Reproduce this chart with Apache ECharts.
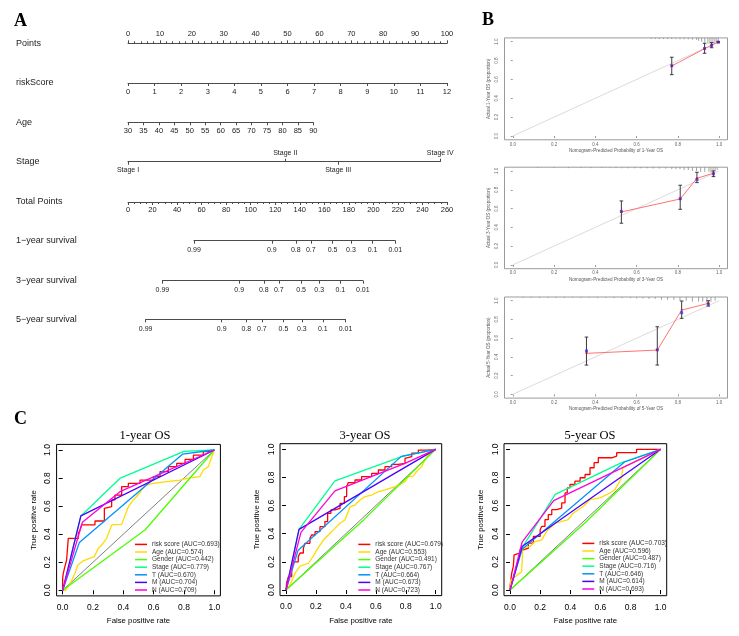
<!DOCTYPE html>
<html><head><meta charset="utf-8">
<script src="https://cdn.jsdelivr.net/npm/echarts@6/dist/echarts.min.js"></script>
<style>html,body{margin:0;padding:0;background:#fff}#c{width:739px;height:636px}</style>
</head><body><div id="c"></div>
<script>
// ================= DATA =================
// --- Panel A: nomogram ---
const rowLabels = ['Points','riskScore','Age','Stage','Total Points','1\u2212year survival','3\u2212year survival','5\u2212year survival'];
const pointsRange = [0, 100], pointsStep = 10;
const riskRange = [0, 12], riskStep = 1;
const ageRange = [30, 90], ageStep = 5;
const stageLabels = ['Stage I','Stage II','Stage III','Stage IV'];
const stagePoints = [0, 49.3, 65.9, 97.9];
const totalRange = [0, 260], totalStep = 20;
const survLabels = ['0.99','0.9','0.8','0.7','0.5','0.3','0.1','0.01'];
const surv1Pts = [53.8, 117.2, 136.8, 149.0, 166.7, 181.7, 199.3, 217.8];
const surv3Pts = [28.0, 90.6, 110.7, 122.9, 141.1, 155.8, 173.0, 191.4];
const surv5Pts = [14.4, 76.4, 96.5, 109.1, 126.7, 141.7, 158.8, 177.3];

// --- Panel B: calibration ---
const calTicks = [0, 0.2, 0.4, 0.6, 0.8, 1.0];
const cal1Pred = [0.77, 0.929, 0.963, 0.995];
const cal1Obs  = [0.742, 0.926, 0.962, 0.997];
const cal1Corr = [0.745, 0.928, 0.96, 0.995];
const cal1Lo   = [0.65, 0.877, 0.936, 0.99];
const cal1Hi   = [0.835, 0.983, 0.99, 1.0];
const cal3Pred = [0.526, 0.811, 0.892, 0.972];
const cal3Obs  = [0.564, 0.702, 0.922, 0.976];
const cal3Corr = [0.57, 0.705, 0.91, 0.97];
const cal3Lo   = [0.444, 0.592, 0.876, 0.94];
const cal3Hi   = [0.681, 0.848, 0.986, 1.0];
const cal5Pred = [0.357, 0.70, 0.818, 0.947];
const cal5Obs  = [0.438, 0.473, 0.9, 0.972];
const cal5Corr = [0.463, 0.476, 0.872, 0.965];
const cal5Lo   = [0.313, 0.313, 0.812, 0.943];
const cal5Hi   = [0.612, 0.722, 0.997, 1.0];
const rug1 = [[0.67,0.012],[0.69,0.012],[0.71,0.012],[0.73,0.012],[0.75,0.012],[0.77,0.012],[0.79,0.012],[0.81,0.015],[0.83,0.015],[0.85,0.015],[0.87,0.02],[0.89,0.02],[0.90,0.03],[0.915,0.04],[0.93,0.05],[0.945,0.06],[0.955,0.06],[0.965,0.07],[0.975,0.06],[0.985,0.05],[0.995,0.04]];
const rug3 = [[0.12,0.01],[0.2,0.01],[0.27,0.01],[0.33,0.01],[0.38,0.01],[0.43,0.01],[0.47,0.01],[0.5,0.01],[0.53,0.012],[0.56,0.012],[0.59,0.012],[0.62,0.012],[0.65,0.012],[0.68,0.015],[0.71,0.015],[0.74,0.015],[0.77,0.02],[0.79,0.02],[0.81,0.02],[0.83,0.03],[0.85,0.03],[0.87,0.04],[0.89,0.04],[0.91,0.05],[0.93,0.05],[0.95,0.05],[0.96,0.06],[0.97,0.05],[0.98,0.04],[0.99,0.03]];
const rug5 = [[0.05,0.01],[0.09,0.01],[0.13,0.01],[0.17,0.01],[0.21,0.01],[0.25,0.01],[0.29,0.01],[0.33,0.012],[0.37,0.01],[0.41,0.012],[0.45,0.01],[0.49,0.012],[0.53,0.012],[0.57,0.012],[0.6,0.015],[0.63,0.015],[0.66,0.02],[0.69,0.02],[0.72,0.03],[0.75,0.03],[0.78,0.03],[0.81,0.04],[0.84,0.04],[0.87,0.05],[0.9,0.05],[0.92,0.05],[0.94,0.06],[0.96,0.05],[0.98,0.04]];

// --- Panel C: ROC ---
const rocVars = ['risk score','Age','Gender','Stage','T','M','N'];
const auc1 = [0.693, 0.574, 0.442, 0.779, 0.670, 0.704, 0.709];
const auc3 = [0.679, 0.553, 0.491, 0.767, 0.664, 0.673, 0.723];
const auc5 = [0.703, 0.596, 0.487, 0.716, 0.646, 0.614, 0.693];
const rocTicks = [0, 0.2, 0.4, 0.6, 0.8, 1.0];

const roc1Risk = [[0,0],[0.004,0.086],[0.015,0.12],[0.026,0.17],[0.037,0.216],[0.048,0.37],[0.103,0.37],[0.114,0.406],[0.125,0.43],[0.147,0.466],[0.213,0.466],[0.22,0.494],[0.275,0.494],[0.286,0.584],[0.323,0.596],[0.345,0.644],[0.389,0.679],[0.433,0.739],[0.51,0.762],[0.598,0.786],[0.642,0.81],[0.697,0.846],[0.752,0.881],[0.807,0.905],[0.862,0.933],[0.927,0.964],[0.971,0.988],[1,1]];
const roc1Age = [[0,0],[0.02,0.0],[0.05,0.05],[0.08,0.12],[0.10,0.18],[0.136,0.21],[0.176,0.228],[0.209,0.24],[0.235,0.30],[0.257,0.323],[0.29,0.37],[0.323,0.466],[0.389,0.47],[0.433,0.596],[0.466,0.644],[0.505,0.69],[0.543,0.748],[0.598,0.762],[0.686,0.774],[0.774,0.786],[0.818,0.798],[0.905,0.81],[0.927,0.857],[0.96,0.88],[0.976,0.93],[1,1]];
const roc1Gender = [[0,0],[0.543,0.43],[1,1]];
const roc1Stage = [[0,0],[0.12,0.53],[0.38,0.80],[0.80,0.99],[1,1]];
const roc1T = [[0,0],[0.11,0.34],[0.79,0.97],[1,1]];
const roc1M = [[0,0],[0.12,0.53],[1,1]];
const roc1N = [[0,0],[0.13,0.485],[0.378,0.703],[1,1]];

const roc3Risk = [[0,0],[0.004,0.0],[0.016,0.05],[0.038,0.095],[0.049,0.142],[0.06,0.2],[0.082,0.2],[0.094,0.237],[0.116,0.263],[0.127,0.296],[0.16,0.332],[0.171,0.367],[0.194,0.391],[0.227,0.415],[0.26,0.45],[0.278,0.486],[0.3,0.545],[0.327,0.569],[0.361,0.58],[0.39,0.616],[0.405,0.664],[0.416,0.735],[0.461,0.763],[0.505,0.782],[0.572,0.806],[0.617,0.829],[0.661,0.853],[0.706,0.877],[0.75,0.893],[0.795,0.9],[0.8,0.936],[0.84,0.948],[0.884,0.972],[0.94,0.995],[1,1]];
const roc3Age = [[0,0],[0.027,0.036],[0.06,0.118],[0.094,0.17],[0.15,0.19],[0.18,0.237],[0.205,0.284],[0.25,0.355],[0.294,0.403],[0.327,0.438],[0.36,0.474],[0.394,0.498],[0.428,0.592],[0.461,0.604],[0.494,0.64],[0.528,0.664],[0.572,0.675],[0.617,0.699],[0.661,0.711],[0.728,0.735],[0.795,0.77],[0.817,0.806],[0.85,0.81],[0.873,0.844],[0.906,0.877],[0.94,0.948],[1,1]];
const roc3Gender = [[0,0],[0.52,0.5],[1,1]];
const roc3Stage = [[0,0],[0.087,0.431],[0.327,0.775],[0.773,0.948],[1,1]];
const roc3T = [[0,0],[0.08,0.28],[0.77,0.95],[1,1]];
const roc3M = [[0,0],[0.087,0.431],[1,1]];
const roc3N = [[0,0],[0.1,0.41],[0.327,0.704],[0.795,0.9],[1,1]];

const roc5Risk = [[0,0],[0.011,0.024],[0.022,0.119],[0.027,0.17],[0.04,0.25],[0.066,0.262],[0.088,0.286],[0.122,0.298],[0.155,0.333],[0.2,0.381],[0.21,0.429],[0.232,0.452],[0.254,0.5],[0.277,0.536],[0.31,0.571],[0.343,0.583],[0.365,0.619],[0.38,0.69],[0.398,0.726],[0.431,0.75],[0.465,0.774],[0.498,0.798],[0.531,0.821],[0.558,0.869],[0.586,0.905],[0.62,0.94],[0.675,0.94],[0.708,0.952],[0.774,0.976],[0.84,0.976],[0.929,1.0],[1,1]];
const roc5Age = [[0,0],[0.004,0.07],[0.033,0.095],[0.077,0.13],[0.085,0.3],[0.133,0.31],[0.166,0.345],[0.21,0.357],[0.243,0.417],[0.3,0.476],[0.343,0.488],[0.387,0.5],[0.42,0.548],[0.454,0.571],[0.487,0.595],[0.531,0.643],[0.597,0.655],[0.664,0.69],[0.697,0.714],[0.741,0.798],[0.748,0.869],[0.819,0.905],[0.907,0.952],[1,1]];
const roc5Gender = [[0,0],[0.5,0.48],[1,1]];
const roc5Stage = [[0,0],[0.08,0.3],[0.3,0.68],[0.741,0.905],[1,1]];
const roc5T = [[0,0],[0.08,0.29],[0.76,0.91],[1,1]];
const roc5M = [[0,0],[0.08,0.31],[1,1]];
const roc5N = [[0,0],[0.08,0.34],[0.29,0.635],[1,1]];

// ================= STYLE / LAYOUT =================
const SANS = 'Liberation Sans, Arial, sans-serif';
const SERIF = 'Liberation Serif, Times New Roman, serif';
const rocColors = ['#FF0000','#FFDB00','#49FF00','#00FF92','#0092FF','#4900FF','#FF00DB'];
const NL = 128, PW = 319;              // nomogram left / width for 0-100 points and 0-260 total
const rowY = [43.3, 83, 122.3, 161.7, 202, 240.7, 280.7, 319.3];
const AGE_W = 185.3;
const STAGE_W = 312.3;
const LC = '#4a4a4a';

const grids = [], xAxes = [], yAxes = [], series = [], legends = [], graphics = [];
function addGrid(g) { grids.push(Object.assign({show:false, outerBoundsMode:'none', containLabel:false}, g)); return grids.length - 1; }
function hiddenY(gi) { yAxes.push({gridIndex:gi, type:'value', min:0, max:1, show:false}); return yAxes.length - 1; }

function nomoAxis(gi, pos, min, max, opt) {
  opt = opt || {};
  const ax = {
    gridIndex: gi, type: 'value', position: pos, min: min, max: max,
    axisLine: {show: opt.line !== false, onZero: false, lineStyle: {color: LC, width: 1}},
    axisTick: {show: true, length: 3, lineStyle: {color: LC, width: 1}},
    axisLabel: {show: true, margin: opt.margin || 5, fontSize: opt.fs || 7.5, color: '#222', fontFamily: SANS, showMinLabel: true, showMaxLabel: true},
    splitLine: {show: false},
    minorTick: {show: !!opt.minor, splitNumber: opt.minor || 5, length: 2, lineStyle: {color: LC, width: 1}}
  };
  if (opt.interval) ax.interval = opt.interval;
  if (opt.custom) { ax.axisTick.customValues = opt.custom; ax.axisLabel.customValues = opt.custom; }
  if (opt.formatter) ax.axisLabel.formatter = opt.formatter;
  xAxes.push(ax);
  return xAxes.length - 1;
}

// ---- Panel A ----
let gi;
gi = addGrid({left: NL, top: rowY[0], width: PW, height: 0}); hiddenY(gi);
nomoAxis(gi, 'top', pointsRange[0], pointsRange[1], {interval: pointsStep, minor: 5});
gi = addGrid({left: NL, top: rowY[1], width: PW, height: 0}); hiddenY(gi);
nomoAxis(gi, 'bottom', riskRange[0], riskRange[1], {interval: riskStep});
gi = addGrid({left: NL, top: rowY[2], width: AGE_W, height: 0}); hiddenY(gi);
nomoAxis(gi, 'bottom', ageRange[0], ageRange[1], {interval: ageStep});
gi = addGrid({left: NL, top: rowY[3], width: STAGE_W, height: 0}); hiddenY(gi);
const stageFmt = v => stageLabels[stagePoints.indexOf(v)] || '';
nomoAxis(gi, 'top', stagePoints[0], stagePoints[3], {custom: [stagePoints[1], stagePoints[3]], formatter: stageFmt, fs: 7});
nomoAxis(gi, 'bottom', stagePoints[0], stagePoints[3], {custom: [stagePoints[0], stagePoints[2]], formatter: stageFmt, fs: 7, line: false});
gi = addGrid({left: NL, top: rowY[4], width: PW, height: 0}); hiddenY(gi);
nomoAxis(gi, 'bottom', totalRange[0], totalRange[1], {interval: totalStep, minor: 4, margin: 4});
[surv1Pts, surv3Pts, surv5Pts].forEach((pts, k) => {
  const s = PW / (totalRange[1] - totalRange[0]);
  const g = addGrid({left: NL + pts[0] * s, top: rowY[5 + k], width: (pts[pts.length - 1] - pts[0]) * s, height: 0});
  hiddenY(g);
  nomoAxis(g, 'bottom', pts[0], pts[pts.length - 1], {custom: pts, formatter: v => survLabels[pts.indexOf(v)] || '', fs: 7, margin: 6});
});
rowLabels.forEach((t, i) => {
  graphics.push({type: 'text', x: 16, y: rowY[i], style: {text: t, font: '9px ' + SANS, fill: '#222', verticalAlign: 'middle'}});
});

// ---- Panel B ----
const Bpanels = [
  {top: 37.9, height: 101.9, pred: cal1Pred, obs: cal1Obs, corr: cal1Corr, lo: cal1Lo, hi: cal1Hi, rug: rug1, yr: 1},
  {top: 167.2, height: 101.5, pred: cal3Pred, obs: cal3Obs, corr: cal3Corr, lo: cal3Lo, hi: cal3Hi, rug: rug3, yr: 3},
  {top: 297.0, height: 101.1, pred: cal5Pred, obs: cal5Obs, corr: cal5Corr, lo: cal5Lo, hi: cal5Hi, rug: rug5, yr: 5}
];
Bpanels.forEach(p => {
  const g = addGrid({show: true, left: 504.5, top: p.top, width: 223, height: p.height, borderColor: '#9a9a9a', borderWidth: 1, backgroundColor: 'transparent'});
  xAxes.push({gridIndex: g, type: 'value', min: -0.04, max: 1.04,
    axisLine: {show: false}, splitLine: {show: false},
    axisTick: {show: true, customValues: calTicks, length: 2, lineStyle: {color: '#9a9a9a'}},
    axisLabel: {customValues: calTicks, formatter: v => v.toFixed(1), margin: 2, fontSize: 4.5, color: '#666', fontFamily: SANS},
    name: 'Nomogram-Predicted Probability of ' + p.yr + '-Year OS', nameLocation: 'middle', nameGap: 8.5,
    nameTextStyle: {fontSize: 4.6, color: '#555', fontFamily: SANS}});
  const xi = xAxes.length - 1;
  yAxes.push({gridIndex: g, type: 'value', min: -0.04, max: 1.04,
    axisLine: {show: false}, splitLine: {show: false},
    axisTick: {show: true, customValues: calTicks, length: 2, lineStyle: {color: '#9a9a9a'}},
    axisLabel: {customValues: calTicks, formatter: v => v.toFixed(1), margin: 5, fontSize: 4.5, rotate: 90, color: '#666', fontFamily: SANS},
    name: 'Actual ' + p.yr + '-Year OS (proportion)', nameLocation: 'middle', nameGap: 13,
    nameTextStyle: {fontSize: 4.6, color: '#555', fontFamily: SANS}});
  const yi = yAxes.length - 1;
  series.push({type: 'line', xAxisIndex: xi, yAxisIndex: yi, data: [[0, 0], [1, 1]], showSymbol: false, silent: true,
    lineStyle: {color: '#dcdcdc', width: 1}, z: 1});
  series.push({type: 'custom', xAxisIndex: xi, yAxisIndex: yi, data: p.rug, silent: true, z: 2,
    renderItem: (params, api) => {
      const a = api.coord([api.value(0), 1.04]), b = api.coord([api.value(0), 1.04 - api.value(1)]);
      return {type: 'line', shape: {x1: a[0], y1: a[1], x2: b[0], y2: b[1]}, style: {stroke: '#8c8c8c', lineWidth: 0.8}};
    }});
  series.push({type: 'custom', xAxisIndex: xi, yAxisIndex: yi, data: p.pred.map((x, i) => [x, p.lo[i], p.hi[i]]), silent: true, z: 3,
    renderItem: (params, api) => {
      const a = api.coord([api.value(0), api.value(1)]), b = api.coord([api.value(0), api.value(2)]);
      const st = {stroke: '#3a3a3a', lineWidth: 1};
      return {type: 'group', children: [
        {type: 'line', shape: {x1: a[0], y1: a[1], x2: b[0], y2: b[1]}, style: st},
        {type: 'line', shape: {x1: a[0] - 1.8, y1: a[1], x2: a[0] + 1.8, y2: a[1]}, style: st},
        {type: 'line', shape: {x1: b[0] - 1.8, y1: b[1], x2: b[0] + 1.8, y2: b[1]}, style: st}
      ]};
    }});
  series.push({type: 'line', xAxisIndex: xi, yAxisIndex: yi, data: p.pred.map((x, i) => [x, p.obs[i]]), silent: true, z: 4,
    symbol: 'none', lineStyle: {color: '#ff7373', width: 1}});
  series.push({type: 'scatter', xAxisIndex: xi, yAxisIndex: yi, data: p.pred.map((x, i) => [x, p.corr[i]]), silent: true, z: 5,
    symbol: 'rect', symbolSize: 3, itemStyle: {color: '#3434ff'}});
  series.push({type: 'scatter', xAxisIndex: xi, yAxisIndex: yi, data: p.pred.map((x, i) => [x, p.obs[i]]), silent: true, z: 6,
    symbol: 'circle', symbolSize: 2, itemStyle: {color: '#d00000'}});
});

// ---- Panel C ----
const Cpanels = [
  {grid: {left: 56.6, top: 444.4, width: 163.8, height: 151.5}, auc: auc1, curves: [roc1Risk, roc1Age, roc1Gender, roc1Stage, roc1T, roc1M, roc1N], title: '1-year OS', tx: 145, leg: {left: 135, top: 540.6}},
  {grid: {left: 280, top: 443.7, width: 161.7, height: 151.9}, auc: auc3, curves: [roc3Risk, roc3Age, roc3Gender, roc3Stage, roc3T, roc3M, roc3N], title: '3-year OS', tx: 365, leg: {left: 358.3, top: 540.6}},
  {grid: {left: 504, top: 443.7, width: 162.7, height: 152}, auc: auc5, curves: [roc5Risk, roc5Age, roc5Gender, roc5Stage, roc5T, roc5M, roc5N], title: '5-year OS', tx: 590, leg: {left: 582.3, top: 539.6}}
];
Cpanels.forEach(p => {
  const g = addGrid(Object.assign({show: true, borderColor: '#000', borderWidth: 1, backgroundColor: 'transparent'}, p.grid));
  xAxes.push({gridIndex: g, type: 'value', min: -0.04, max: 1.04,
    axisLine: {show: false}, splitLine: {show: false},
    axisTick: {show: true, customValues: rocTicks, length: 4, lineStyle: {color: '#000'}},
    axisLabel: {customValues: rocTicks, formatter: v => v.toFixed(1), margin: 7, fontSize: 8.5, color: '#000', fontFamily: SANS},
    name: 'False positive rate', nameLocation: 'middle', nameGap: 21,
    nameTextStyle: {fontSize: 7.8, color: '#000', fontFamily: SANS}});
  const xi = xAxes.length - 1;
  yAxes.push({gridIndex: g, type: 'value', min: -0.04, max: 1.04,
    axisLine: {show: false}, splitLine: {show: false},
    axisTick: {show: true, customValues: rocTicks, length: 4, lineStyle: {color: '#000'}},
    axisLabel: {customValues: rocTicks, formatter: v => v.toFixed(1), margin: 4, fontSize: 8.5, rotate: 90, color: '#000', fontFamily: SANS},
    name: 'True positive rate', nameLocation: 'middle', nameGap: 19,
    nameTextStyle: {fontSize: 7.8, color: '#000', fontFamily: SANS}});
  const yi = yAxes.length - 1;
  series.push({type: 'line', xAxisIndex: xi, yAxisIndex: yi, data: [[0, 0], [1, 1]], showSymbol: false, silent: true,
    lineStyle: {color: '#808080', width: 1}, z: 1});
  const names = [];
  p.curves.forEach((d, i) => {
    const nm = rocVars[i] + ' (AUC=' + p.auc[i].toFixed(3) + ')';
    names.push(nm);
    const s = {type: 'line', name: nm, xAxisIndex: xi, yAxisIndex: yi, data: d, showSymbol: false, symbol: 'none', silent: true,
      color: rocColors[i], lineStyle: {color: rocColors[i], width: 1.3}, z: 2 + i};
    if (i === 0) s.step = 'start';
    series.push(s);
  });
  legends.push({orient: 'vertical', left: p.leg.left, top: p.leg.top, padding: 0, itemGap: 0, itemWidth: 12, itemHeight: 1.5,
    icon: 'rect', selectedMode: false, data: names,
    textStyle: {fontSize: 6.5, lineHeight: 7.6, color: '#333', fontFamily: SANS}});
  graphics.push({type: 'text', x: p.tx, y: 436, style: {text: p.title, font: '12.5px ' + SERIF, fill: '#000', align: 'center', verticalAlign: 'middle'}});
});

// panel letters
graphics.push({type: 'text', x: 14, y: 21, style: {text: 'A', font: 'bold 18px ' + SERIF, fill: '#000', verticalAlign: 'middle'}});
graphics.push({type: 'text', x: 482, y: 20, style: {text: 'B', font: 'bold 18px ' + SERIF, fill: '#000', verticalAlign: 'middle'}});
graphics.push({type: 'text', x: 14, y: 419, style: {text: 'C', font: 'bold 18px ' + SERIF, fill: '#000', verticalAlign: 'middle'}});

const chart = echarts.init(document.getElementById('c'), null, {renderer: 'canvas'});
chart.setOption({
  animation: false,
  backgroundColor: '#fff',
  grid: grids, xAxis: xAxes, yAxis: yAxes, series: series, legend: legends, graphic: graphics
});
</script></body></html>
